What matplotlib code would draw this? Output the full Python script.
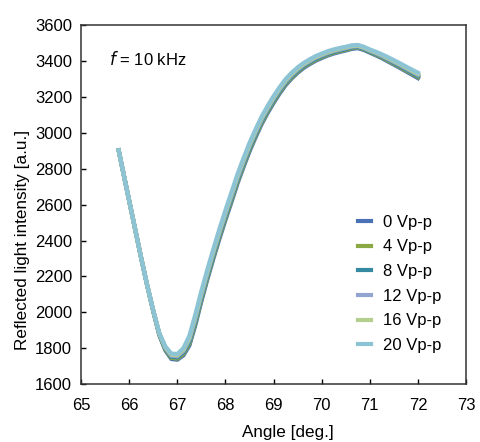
import matplotlib
matplotlib.use('Agg')
import matplotlib.pyplot as plt

plt.rcParams['font.family'] = ['Liberation Sans', 'DejaVu Sans']

### Data ###

angles = [65.78, 65.875, 66.0, 66.125, 66.25, 66.375, 66.5, 66.625, 66.75, 66.875,
          67.0, 67.125, 67.25, 67.375, 67.5, 67.625, 67.75, 67.875, 68.0, 68.125,
          68.25, 68.375, 68.5, 68.625, 68.75, 68.875, 69.0, 69.125, 69.25, 69.375,
          69.5, 69.625, 69.75, 69.875, 70.0, 70.125, 70.25, 70.375, 70.5, 70.625,
          70.75, 70.875, 71.0, 71.125, 71.25, 71.375, 71.5, 71.625, 71.75, 71.875,
          72.0]

v0 = [2903, 2780, 2620, 2460, 2300, 2147, 2005, 1873, 1788, 1740,
      1736, 1760, 1815, 1930, 2062, 2185, 2300, 2410, 2515, 2615,
      2718, 2810, 2897, 2975, 3048, 3110, 3167, 3219, 3266, 3303,
      3335, 3362, 3383, 3402, 3417, 3431, 3442, 3451, 3459, 3468,
      3472, 3462, 3447, 3432, 3416, 3398, 3380, 3362, 3343, 3324,
      3305]
v4 = [2903, 2780, 2620, 2460, 2300, 2148, 2006, 1875, 1792, 1746,
      1742, 1768, 1826, 1942, 2074, 2196, 2311, 2421, 2526, 2626,
      2728, 2820, 2907, 2984, 3056, 3118, 3175, 3226, 3273, 3309,
      3341, 3368, 3388, 3407, 3422, 3436, 3447, 3455, 3463, 3472,
      3476, 3466, 3451, 3436, 3420, 3403, 3385, 3367, 3348, 3330,
      3311]
v8 = [2903, 2780, 2620, 2460, 2300, 2148, 2007, 1878, 1797, 1752,
      1749, 1776, 1837, 1954, 2085, 2207, 2322, 2432, 2537, 2637,
      2739, 2830, 2916, 2993, 3065, 3126, 3182, 3233, 3280, 3316,
      3347, 3373, 3394, 3412, 3427, 3441, 3451, 3460, 3467, 3476,
      3479, 3469, 3454, 3440, 3425, 3408, 3390, 3372, 3354, 3335,
      3317]
v12 = [2903, 2780, 2620, 2460, 2300, 2149, 2008, 1880, 1801, 1758,
       1755, 1784, 1848, 1966, 2097, 2218, 2333, 2443, 2548, 2648,
       2749, 2840, 2926, 3002, 3073, 3134, 3190, 3241, 3286, 3322,
       3353, 3379, 3399, 3418, 3432, 3445, 3456, 3464, 3472, 3480,
       3483, 3473, 3458, 3444, 3429, 3412, 3395, 3378, 3359, 3341,
       3323]
v16 = [2903, 2780, 2620, 2460, 2300, 2149, 2009, 1883, 1806, 1764,
       1762, 1792, 1859, 1978, 2108, 2229, 2344, 2454, 2559, 2659,
       2760, 2850, 2935, 3011, 3082, 3142, 3197, 3248, 3293, 3329,
       3359, 3384, 3405, 3423, 3437, 3450, 3460, 3469, 3476, 3484,
       3486, 3476, 3461, 3448, 3434, 3417, 3400, 3383, 3365, 3346,
       3329]
v20 = [2903, 2780, 2620, 2460, 2300, 2150, 2010, 1885, 1810, 1770,
       1768, 1800, 1870, 1990, 2120, 2240, 2355, 2465, 2570, 2670,
       2770, 2860, 2945, 3020, 3090, 3150, 3205, 3255, 3300, 3335,
       3365, 3390, 3410, 3428, 3442, 3455, 3465, 3473, 3480, 3488,
       3490, 3480, 3465, 3452, 3438, 3422, 3405, 3388, 3370, 3352,
       3335]

labels = ['0 Vp-p', '4 Vp-p', '8 Vp-p', '12 Vp-p', '16 Vp-p', '20 Vp-p']
colors = ['#4a70b6', '#8aa843', '#3589a0', '#92a5d0', '#b5cf8e', '#8dc4d5']
series = [v0, v4, v8, v12, v16, v20]

### Plot ###

fig = plt.figure(figsize=(4.8, 4.42), dpi=100)
ax = fig.add_axes([0.169, 0.131, 0.802, 0.812])

for vals, lab, col in zip(series, labels, colors):
    ax.plot(angles, vals, color=col, linewidth=3, label=lab,
            solid_joinstyle='round')

ax.set_xlim(65, 73)
ax.set_ylim(1600, 3600)
ax.set_xticks(range(65, 74))
ax.set_yticks(range(1600, 3601, 200))
ax.tick_params(direction='in', length=3.6, width=1, labelsize=12)
ax.tick_params(axis='x', pad=10)
ax.tick_params(axis='y', pad=6.5)
for sp in ax.spines.values():
    sp.set_linewidth(1.1)
    sp.set_color('#333333')

# axis titles are off-centre in the original, so place them by hand
fig.text(287.5 / 480, 1 - 433 / 442, 'Angle [deg.]', fontsize=12.3,
         ha='center', va='center')
fig.text(22.5 / 480, 1 - 240 / 442, 'Reflected light intensity [a.u.]',
         fontsize=12.3, ha='center', va='center', rotation=90)

ax.text(0.073, 0.905, r'$f$ = 10 kHz', transform=ax.transAxes,
        fontsize=12, va='center', ha='left')

ax.legend(loc='upper left', bbox_to_anchor=(0.7195, 0.472), frameon=False,
          fontsize=12, handlelength=0.78, handletextpad=0.72,
          labelspacing=0.58, borderpad=0, borderaxespad=0)

fig.savefig('out.png', dpi=100)
